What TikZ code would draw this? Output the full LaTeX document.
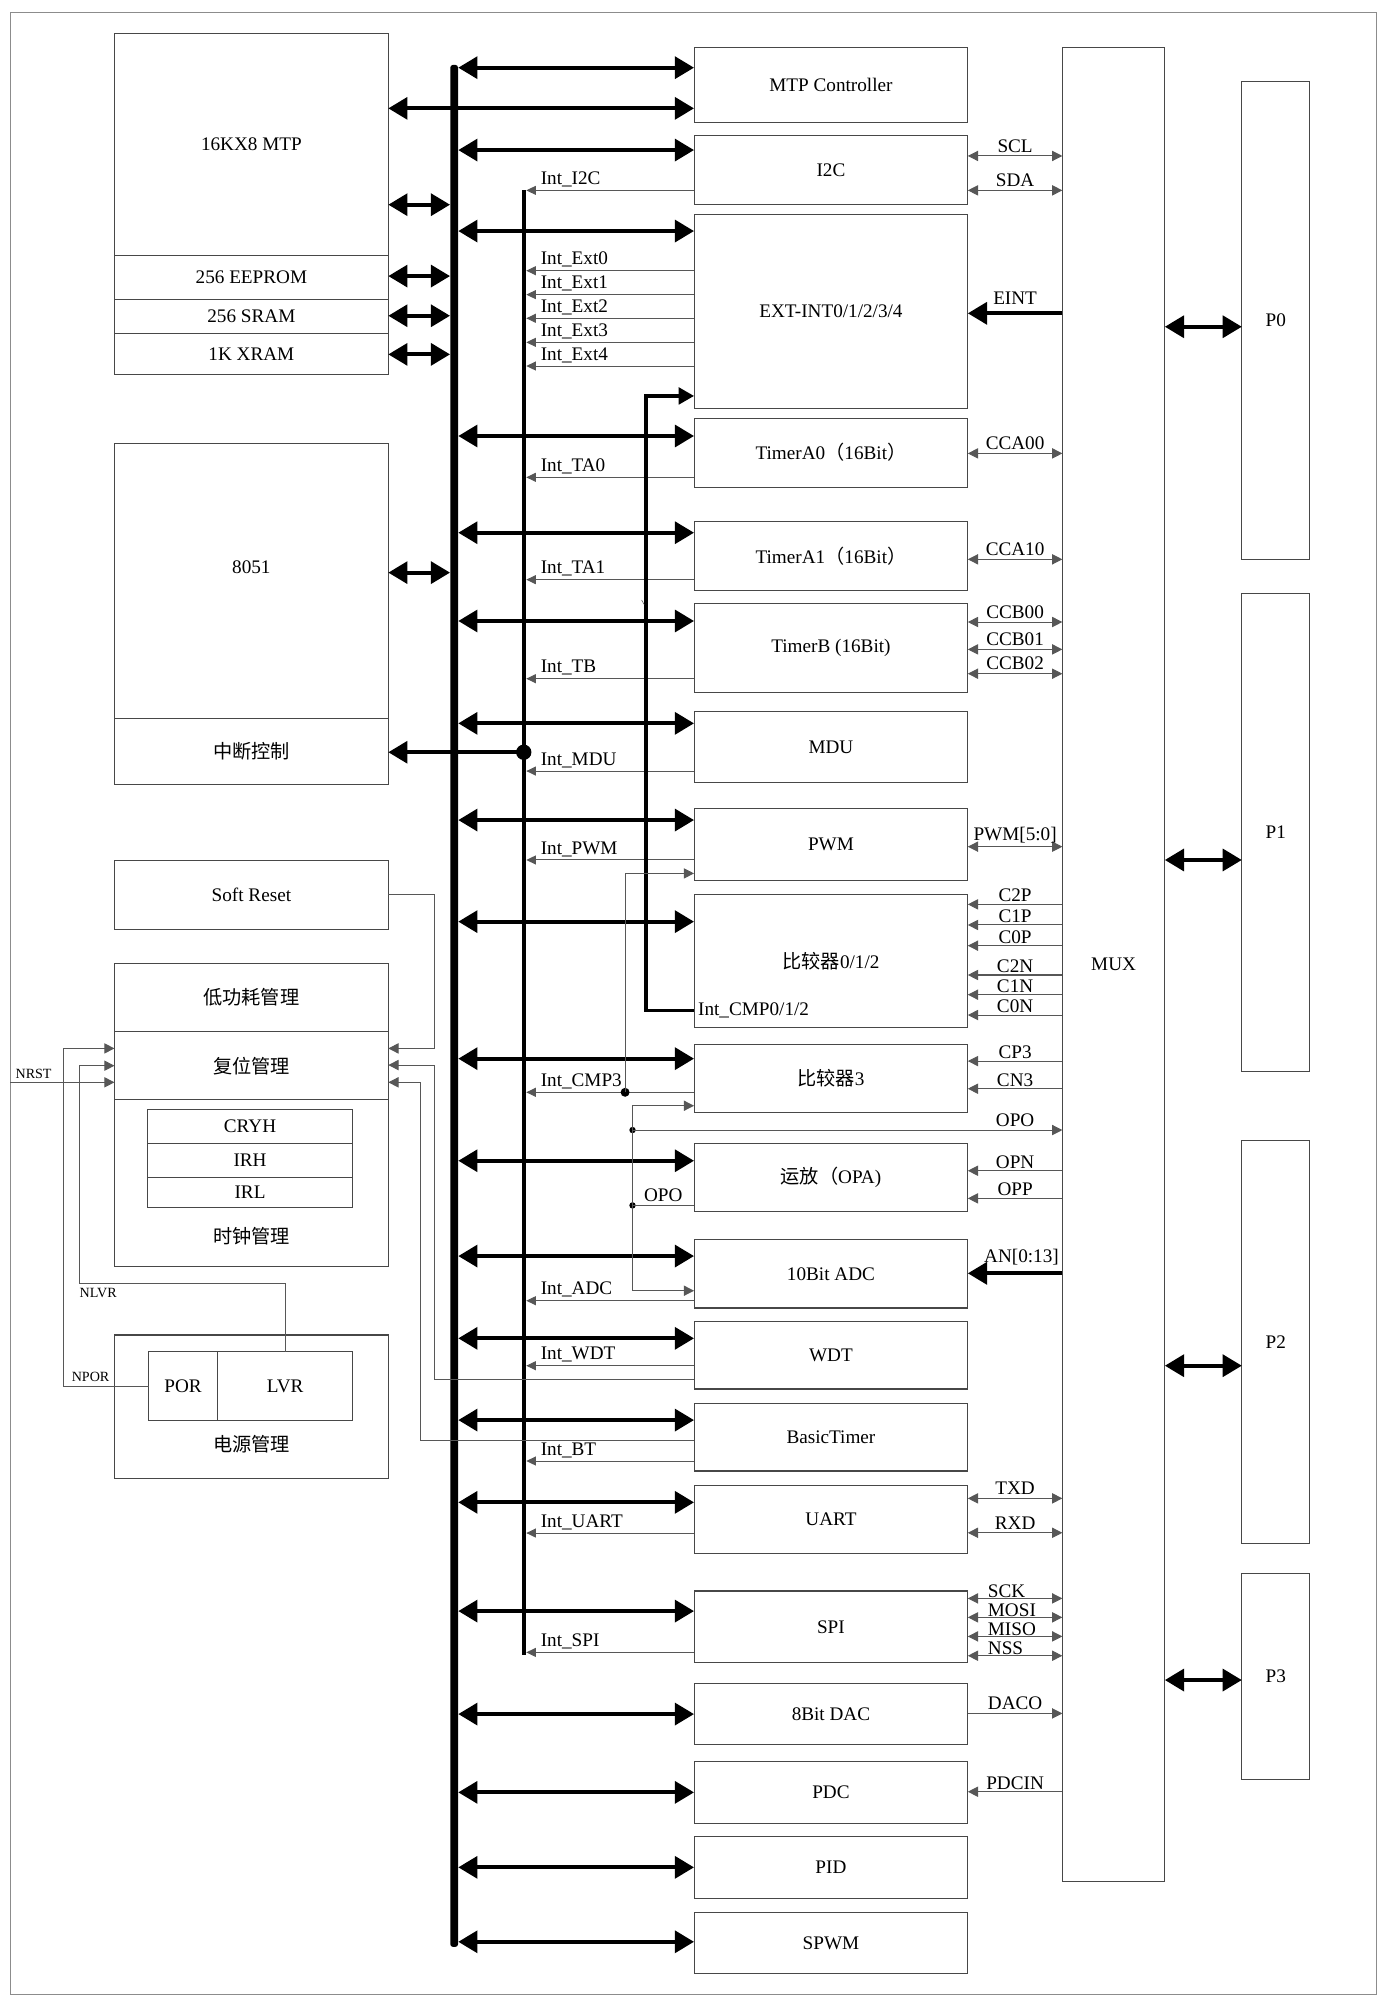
\documentclass[tikz,border=0pt]{standalone}
\usepackage{fontspec}
\setmainfont{Liberation Serif}
\newfontfamily\cjk{Noto Sans CJK SC}
\usetikzlibrary{arrows.meta}
\newcommand\blk[7][]{\node[box,#1,minimum width={(#5-#3)*1pt},minimum height={(#6-#4)*1pt}] (#2) at ({(#3+#5)/2},{(#4+#6)/2}) {#7};}
\begin{document}
\begin{tikzpicture}[x=1pt,y=-1pt,
  every node/.style={font=\fontsize{15}{18}\selectfont},
  box/.style={draw=black!72, line width=0.8pt, rectangle, inner sep=0pt, outer sep=0pt},
  wire/.style={draw=black!66, line width=0.8pt},
  sarr/.style={wire, -{Triangle[length=8pt,width=8pt]}},
  dsarr/.style={wire, {Triangle[length=8pt,width=8pt]}-{Triangle[length=8pt,width=8pt]}},
  iarr/.style={wire, -{Triangle[length=7.5pt,width=7pt]}},
  bigarr/.style={draw=black, line width=3.2pt, {Triangle[length=15pt,width=17pt]}-{Triangle[length=15pt,width=17pt]}},
  bigsarr/.style={draw=black, line width=3.2pt, -{Triangle[length=15pt,width=17pt]}},
  lbl/.style={anchor=south, inner sep=2.5pt},
  ilbl/.style={anchor=south west, inner sep=2.5pt},
  slbl/.style={inner sep=0pt, font=\fontsize{11}{13}\selectfont},
  txt/.style={inner sep=0pt},
  jdot/.style={circle, fill=black, inner sep=0pt, minimum size=#1},
]
\useasboundingbox (0,0) rectangle (1085,1568);
\draw[black!45, line width=0.8pt] (8,10) rectangle (1076,1559);

% ---------- left column ----------
\blk{mtp}{89.5}{26}{303.5}{199.5}{16KX8 MTP}
\blk{eeprom}{89.5}{199.5}{303.5}{234}{256 EEPROM}
\blk{sram}{89.5}{234}{303.5}{260.5}{256 SRAM}
\blk{xram}{89.5}{260.5}{303.5}{292.4}{1K XRAM}
\blk{cpu}{89.5}{346.5}{303.5}{561.5}{}
\node[txt] (t8051) at (196.5,443) {8051};
\blk{intc}{89.5}{561.5}{303.5}{613.1}{{\cjk 中断控制}}
\blk{softr}{89.5}{672.8}{303.5}{726.2}{Soft Reset}
\blk{lp}{89.5}{753}{303.5}{806.2}{{\cjk 低功耗管理}}
\blk{rst}{89.5}{806.2}{303.5}{859.8}{{\cjk 复位管理}}
\blk{clk}{89.5}{859.8}{303.5}{989.6}{}
\node[txt] (tclk) at (196.5,966) {\cjk 时钟管理};
\blk{cryh}{115.2}{867.2}{275.7}{893.7}{CRYH}
\blk{irh}{115.2}{893.7}{275.7}{920.5}{IRH}
\blk{irl}{115.2}{920.5}{275.7}{944}{IRL}
\blk{pwr}{89.5}{1043.5}{303.5}{1155.6}{}
\node[txt] (tpwr) at (196.5,1128.7) {\cjk 电源管理};
\blk{por}{116.2}{1056.6}{170}{1110.2}{POR}
\blk{lvr}{170}{1056.6}{275.7}{1110.2}{LVR}

% ---------- right blocks ----------
\blk{mtpc}{542.5}{37}{756.5}{95.4}{MTP Controller}
\blk{i2c}{542.5}{106}{756.5}{159.5}{I2C}
\blk{ext}{542.5}{167.5}{756.5}{319.5}{EXT-INT0/1/2/3/4}
\blk{ta0}{542.5}{327}{756.5}{380.7}{TimerA0{\cjk （}16Bit{\cjk ）}}
\blk{ta1}{542.5}{407.8}{756.5}{461.2}{TimerA1{\cjk （}16Bit{\cjk ）}}
\blk{tb}{542.5}{471.6}{756.5}{541.2}{TimerB (16Bit)}
\blk{mdu}{542.5}{555.8}{756.5}{611.8}{MDU}
\blk{pwm}{542.5}{632}{756.5}{688.1}{PWM}
\blk{cmp012}{542.5}{699.3}{756.5}{802.8}{{\cjk 比较器}0/1/2}
\blk{cmp3}{542.5}{816.3}{756.5}{869.8}{{\cjk 比较器}3}
\blk{opa}{542.5}{893.7}{756.5}{947.1}{{\cjk 运放（}OPA)}
\blk{adc}{542.5}{969}{756.5}{1022.4}{10Bit ADC}
\blk{wdt}{542.5}{1032.6}{756.5}{1085.7}{WDT}
\blk{bt}{542.5}{1097}{756.5}{1149.8}{BasicTimer}
\blk{uart}{542.5}{1161}{756.5}{1214.2}{UART}
\blk{spi}{542.5}{1243.6}{756.5}{1299.7}{SPI}
\blk{dac}{542.5}{1316}{756.5}{1363.5}{8Bit DAC}
\blk{pdc}{542.5}{1377}{756.5}{1425.3}{PDC}
\blk{pid}{542.5}{1435.7}{756.5}{1483.9}{PID}
\blk{spwm}{542.5}{1494.8}{756.5}{1542.5}{SPWM}

\blk{mux}{830.4}{37}{910.5}{1470.3}{MUX}
\blk{p0}{970.7}{63.6}{1023.8}{437}{P0}
\blk{p1}{970.7}{463.8}{1023.8}{837.5}{P1}
\blk{p2}{970.7}{891.4}{1023.8}{1206.4}{P2}
\blk{p3}{970.7}{1229.9}{1023.8}{1390.6}{P3}

% ---------- bus and interrupt line ----------
\node[fill=black, inner sep=0pt, minimum width=6pt, minimum height=1471pt, rounded corners=2pt] (bus) at (355,786.25) {};
\node[fill=black, inner sep=0pt, minimum width=3.5pt, minimum height=1145pt] (intl) at (409.4,721.25) {};

% bus <-> right blocks
\foreach \n/\y in {mtpc/52.9, i2c/117.3, ext/180.6, ta0/340.8, ta1/416.4, tb/485.4, mdu/565.4, pwm/641, cmp012/720.4, cmp3/827.5, opa/907.3, adc/981.8, wdt/1046.1, bt/1110, uart/1174.3, spi/1259.3, dac/1339.8, pdc/1401, pid/1459.6, spwm/1517.8}
  \draw[bigarr] (bus.east |- 0,\y) -- (\n.west |- 0,\y);
\draw[bigarr] (mtp.east |- 0,84.7) -- (mtpc.west |- 0,84.7);
\draw[bigarr] (mtp.east |- 0,160) -- (bus.west |- 0,160);
\draw[bigarr] (eeprom.east |- 0,215.8) -- (bus.west |- 0,215.8);
\draw[bigarr] (sram.east |- 0,246.8) -- (bus.west |- 0,246.8);
\draw[bigarr] (xram.east |- 0,277) -- (bus.west |- 0,277);
\draw[bigarr] (cpu.east |- 0,447.6) -- (bus.west |- 0,447.6);

% interrupt request lines
\foreach \n/\y/\t in {i2c/148.8/I2C, ext/211.6/Ext0, ext/230.3/Ext1, ext/248.8/Ext2, ext/267.6/Ext3, ext/286.1/Ext4, ta0/373.1/TA0, ta1/453.1/TA1, tb/530.5/TB, mdu/602.7/MDU, pwm/672.2/PWM, cmp3/853.8/CMP3, adc/1016.7/ADC, wdt/1067.5/WDT, bt/1142/BT, uart/1198.3/UART, spi/1291.6/SPI}
{
  \draw[iarr] (\n.west |- 0,\y) -- (intl.east |- 0,\y);
  \node[ilbl] at (420,\y) {Int\_\t};
}

% interrupt controller tap
\node[jdot=12pt] (d1) at (intl.center |- 0,588) {};
\draw[bigsarr] (d1.center) -- (intc.east |- d1.center);

% Int_CMP0/1/2 to EXT-INT
\draw[line width=2.5pt, -{Triangle[length=12pt,width=13pt]}] (cmp012.west |- 0,789.8) -| (505,309.5) -- (ext.west |- 0,309.5);
\node[anchor=west, inner sep=3pt] at (cmp012.west |- 0,789.8) {Int\_CMP0/1/2};

% comparator 3 output to PWM
\node[jdot=7pt] (d2) at (488.6,853.8) {};
\draw[sarr] (d2.center) |- (pwm.west |- 0,682.7);

% OPO net
\node[jdot=5pt] (d3) at (494.4,883.3) {};
\node[jdot=5pt] (d4) at (494.4,942.2) {};
\draw[sarr] (d4.center) |- (cmp3.west |- 0,864.3);
\draw[sarr] (d4.center) |- (adc.west |- 0,1008.9);
\draw[wire] (d4.center) -- (opa.west |- d4.center) node[midway, lbl] {OPO};
\draw[sarr] (d3.center) -- (mux.west |- d3.center) node[pos=0.89, lbl] {OPO};

% tiny mark
\draw[black!60, line width=0.5pt] (501.5,469) -- (503.5,472.5);

% ---------- MUX side signals ----------
\foreach \n/\y/\t in {i2c/121.9/SCL, i2c/148.8/SDA, ta0/354.4/CCA00, ta1/437.2/CCA10, tb/486.2/CCB00, tb/507.6/CCB01, tb/526.6/CCB02, pwm/661.8/{PWM[5:0]}, uart/1171.2/TXD, uart/1198.1/RXD}
  \draw[dsarr] (\n.east |- 0,\y) -- (mux.west |- 0,\y) node[midway, lbl] {\t};
\foreach \n/\y/\t in {spi/1249.4/SCK, spi/1264.2/MOSI, spi/1279.1/MISO, spi/1294.2/NSS}
{
  \draw[dsarr] (\n.east |- 0,\y) -- (mux.west |- 0,\y);
  \node[anchor=south west, inner sep=0.5pt] at (771.5,\y) {\t};
}
\foreach \n/\y/\t in {cmp012/706.9/C2P, cmp012/723/C1P, cmp012/739.2/C0P, cmp012/762.1/C2N, cmp012/777.5/C1N, cmp012/793.4/C0N, cmp3/829.4/CP3, cmp3/851/CN3, opa/915.1/OPN, opa/936.7/OPP, pdc/1400.5/PDCIN}
  \draw[sarr] (mux.west |- 0,\y) -- (\n.east |- 0,\y) node[midway, lbl, inner sep=1.5pt] {\t};
\draw[sarr] (dac.east |- 0,1339.3) -- (mux.west |- 0,1339.3) node[midway, lbl] {DACO};
\draw[bigsarr] (mux.west |- 0,244.9) -- (ext.east |- 0,244.9) node[midway, lbl, inner sep=5pt] {EINT};
\draw[bigsarr] (mux.west |- 0,995.3) -- (adc.east |- 0,995.3) node[midway, lbl, inner sep=5pt, xshift=5pt] {AN[0:13]};

% MUX <-> ports
\draw[bigarr] (mux.east |- 0,255.4) -- (p0.west |- 0,255.4);
\draw[bigarr] (mux.east |- 0,672.2) -- (p1.west |- 0,672.2);
\draw[bigarr] (mux.east |- 0,1067.5) -- (p2.west |- 0,1067.5);
\draw[bigarr] (mux.east |- 0,1313.2) -- (p3.west |- 0,1313.2);

% ---------- reset network ----------
\draw[sarr] (softr.east) -- ++(36,0) |- (rst.east |- 0,819.5);
\draw[sarr] (wdt.west |- 0,1078.2) -| (339.5,832.5) -- (rst.east |- 0,832.5);
\draw[sarr] (bt.west |- 0,1125.9) -| (328.7,846) -- (rst.east |- 0,846);
\draw[sarr] (por.west) -| (49.6,819.5) -- (rst.west |- 0,819.5);
\draw[sarr] (lvr.north) |- (62.1,1003.2) -- (62.1,833) -- (rst.west |- 0,833);
\coordinate (nrst) at (8,846);
\draw[sarr] (nrst) -- (rst.west |- nrst);
\node[slbl, anchor=south west] at (12,843.5) {NRST};
\node[slbl, anchor=north west] at (62.1,1006.5) {NLVR};
\node[slbl, anchor=south] at (70.8,1080.5) {NPOR};
\end{tikzpicture}
\end{document}
